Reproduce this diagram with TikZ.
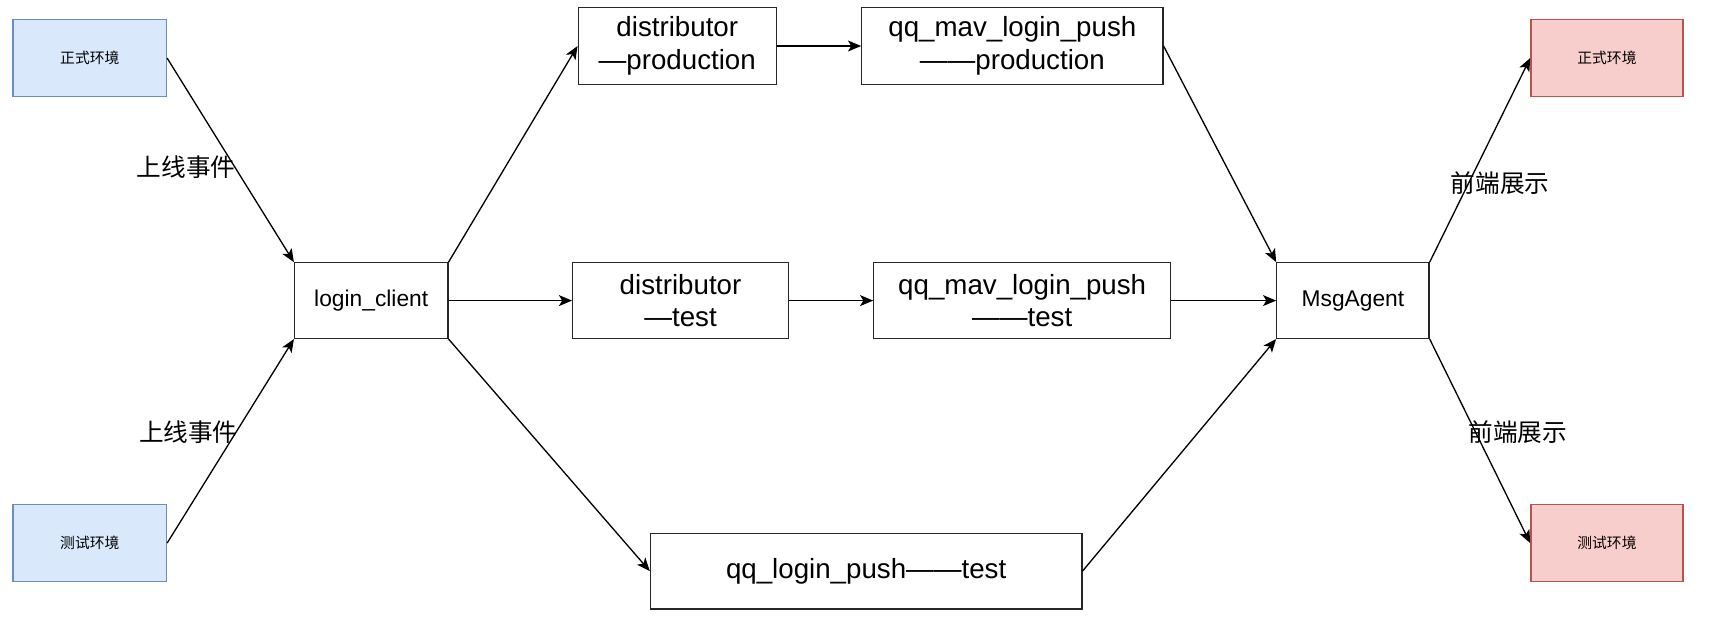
\documentclass[tikz,border=0pt]{standalone}
\usepackage{fontspec}
\setmainfont{Liberation Sans}
\newfontfamily\cjk{Noto Sans CJK SC}
\usetikzlibrary{arrows.meta}
\definecolor{bstroke}{RGB}{108,142,191}
\definecolor{bfill}{RGB}{218,232,252}
\definecolor{rstroke}{RGB}{184,84,80}
\definecolor{rfill}{RGB}{248,206,204}
\begin{document}
\begin{tikzpicture}[x=0.5pt,y=-0.5pt,
  box/.style={draw=black!85,line width=0.6pt,inner sep=0pt,align=center,font=\fontsize{12.65}{15}\selectfont},
  envblue/.style={draw=bstroke,fill=bfill,line width=0.6pt,inner sep=0pt,font=\cjk\fontsize{6.75}{8}\selectfont},
  envred/.style={draw=rstroke,fill=rfill,line width=0.6pt,inner sep=0pt,font=\cjk\fontsize{6.75}{8}\selectfont},
  lbl/.style={font=\cjk\fontsize{11.25}{13}\selectfont,inner sep=0pt},
  arr/.style={-{Stealth[length=6pt,width=5pt,inset=1.5pt]},line width=0.6pt}]
\useasboundingbox (0,0) rectangle (1568,570);
\node[envblue,minimum width=70pt,minimum height=35pt] (pa) at (82,53) {正式环境};
\node[envblue,minimum width=70pt,minimum height=35pt] (ta) at (82,496) {测试环境};
\node[box,minimum width=70pt,minimum height=34.5pt,font=\fontsize{10.4}{12}\selectfont] (lc) at (339,274.5) {login\_client};
\node[box,minimum width=90.5pt,minimum height=35pt] (dp) at (618.5,42) {distributor\\—production};
\node[box,minimum width=137.5pt,minimum height=35pt] (mp) at (924.5,42) {qq\_mav\_login\_push\\——production};
\node[box,minimum width=98.5pt,minimum height=34.5pt] (dt) at (621.5,274.5) {distributor\\—test};
\node[box,minimum width=135.5pt,minimum height=34.5pt] (mt) at (933.5,274.5) {qq\_mav\_login\_push\\——test};
\node[box,minimum width=197pt,minimum height=34.5pt] (lp) at (791,521.5) {qq\_login\_push——test};
\node[box,minimum width=69.5pt,minimum height=34.5pt,font=\fontsize{10.4}{12}\selectfont] (ma) at (1235.5,274.5) {MsgAgent};
\node[envred,minimum width=69.5pt,minimum height=35pt] (pr) at (1467.5,53) {正式环境};
\node[envred,minimum width=69.5pt,minimum height=35pt] (tr) at (1467.5,496) {测试环境};
\draw[arr] (pa.east) -- (lc.north west);
\draw[arr] (ta.east) -- (lc.south west);
\draw[arr] (lc.north east) -- (dp.west);
\draw[arr] (lc.east) -- (dt.west);
\draw[arr] (lc.south east) -- (lp.west);
\draw[arr] (dp.east) -- (mp.west);
\draw[arr] (dt.east) -- (mt.west);
\draw[arr] (mp.east) -- (ma.north west);
\draw[arr] (mt.east) -- (ma.west);
\draw[arr] (lp.east) -- (ma.south west);
\draw[arr] (ma.north east) -- (pr.west);
\draw[arr] (ma.south east) -- (tr.west);
\node[lbl] (l1) at (170,153) {上线事件};
\node[lbl] (l2) at (172,395) {上线事件};
\node[lbl] (l3) at (1370,167) {前端展示};
\node[lbl] (l4) at (1386,395) {前端展示};
\end{tikzpicture}
\end{document}
